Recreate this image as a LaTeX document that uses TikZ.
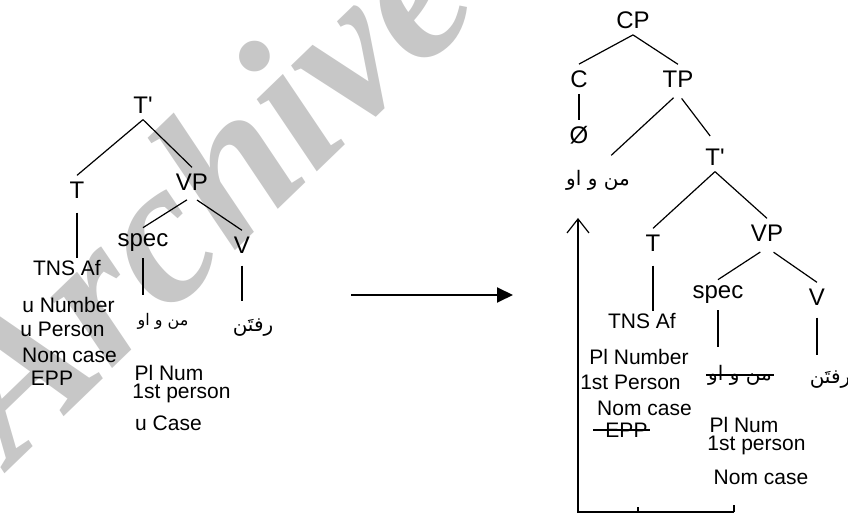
\documentclass[tikz,border=0pt]{standalone}
\usepackage{fontspec}
\setmainfont{Liberation Sans}
\newfontfamily\arabicfont[Script=Arabic]{DejaVu Sans}
\newfontfamily\wmfont{Liberation Serif}
\TeXXeTstate=1
\usetikzlibrary{arrows.meta}
\newcommand{\artxt}[1]{\beginR #1\endR}
\tikzset{
	lab/.style={inner sep=3pt, font=\fontsize{12}{14}\selectfont},
	feat/.style={inner sep=1pt, font=\fontsize{10.5}{12}\selectfont},
	arab/.style={inner sep=1pt, font=\arabicfont\fontsize{8}{10}\selectfont},
	arabbig/.style={inner sep=1pt, font=\arabicfont\fontsize{10}{12}\selectfont},
	branch/.style={line width=0.6pt},
	wm/.style={text=black!22, rotate=44, font=\wmfont\bfseries\itshape\fontsize{102}{102}\selectfont}
}

\begin{document}
\begin{tikzpicture}[x=0.5pt,y=-0.5pt]
\useasboundingbox (0,0) rectangle (848,513);
	\node[wm] (wmark) at (200,188) {Archive};
	\node[lab] (tbarL) at (143,105) {T\textquotesingle};
	\node[lab] (tL) at (77,190) {T};
	\node[lab] (vpL) at (192,182) {VP};
	\node[lab] (specL) at (143,243) {spec};
	\node[lab] (vL) at (242,245) {V};
	\node[feat] (tnsL) at (67,268) {TNS Af};
	\node[feat] (unumL) at (68.5,305) {u Number};
	\node[feat] (upersL) at (62.5,329) {u Person};
	\node[feat] (nomL) at (69.5,355) {Nom case};
	\node[feat] (eppL) at (52,378) {EPP};
	\node[arab] (arabL) at (163,321) {\artxt{من و او}};
	\node[arabbig] (raftL) at (253,328) {\artxt{رفتَن}};
	\node[feat] (plL) at (169,373) {Pl Num};
	\node[feat] (firstL) at (181.5,393) {1st person};
	\node[feat] (ucaseL) at (168.5,423) {u Case};
	\draw[branch] (tbarL.south) -- (tL.north);
	\draw[branch] (tbarL.south) -- (vpL.north);
	\draw[branch, shorten <=3pt] (vpL.south) -- (specL.north);
	\draw[branch, shorten <=3pt] (vpL.south) -- (vL.north);
	\draw[branch, shorten <=4pt] (tL.south) -- (tL.south |- tnsL.north);
	\draw[branch, shorten >=8pt] (specL.south) -- (specL.south |- arabL.north);
	\draw[branch, shorten <=3pt, shorten >=8pt] (vL.south) -- (vL.south |- raftL.north);
	\coordinate (arrS) at (351,295);
	\coordinate (arrE) at (513,295);
	\draw[line width=1pt, -{Triangle[length=8pt,width=7.5pt]}] (arrS) -- (arrE);
	\node[lab] (cp) at (633,20) {CP};
	\node[lab] (c) at (579,79) {C};
	\node[lab] (tp) at (678,79) {TP};
	\node[lab] (empty) at (579,135) {Ø};
	\node[arabbig] (arabR) at (598,180) {\artxt{من و او}};
	\node[lab] (tbarR) at (715,157) {T\textquotesingle};
	\node[lab] (tR) at (653,243) {T};
	\node[lab] (vpR) at (767,233) {VP};
	\node[lab] (specR) at (718,295) {spec};
	\node[lab] (vR) at (817,297) {V};
	\node[feat] (tnsR) at (642,321) {TNS Af};
	\node[feat] (plnumR) at (639,357) {Pl Number};
	\node[feat] (persR) at (630.5,382) {1st Person};
	\node[feat] (nomR) at (644.5,408) {Nom case};
	\node[feat] (eppR) at (626.5,430) {EPP};
	\node[arabbig] (arabRs) at (740,375) {\artxt{من و او}};
	\node[arabbig] (raftR) at (830,380) {\artxt{رفتَن}};
	\node[feat] (plR) at (744,425) {Pl Num};
	\node[feat] (firstR) at (756.5,445) {1st person};
	\node[feat] (nomR2) at (761,477) {Nom case};
	\draw[branch] (cp.south) -- (c.north);
	\draw[branch] (cp.south) -- (tp.north);
	\draw[branch] (c.south) -- (c.south |- empty.north);
	\draw[branch, shorten <=3pt, shorten >=9pt] (tp.south) -- (arabR.north);
	\draw[branch, shorten <=3pt, shorten >=4pt] (tp.south) -- (tbarR.north);
	\draw[branch] (tbarR.south) -- (tR.north);
	\draw[branch] (tbarR.south) -- (vpR.north);
	\draw[branch, shorten <=4pt] (tR.south) -- (tR.south |- tnsR.north);
	\draw[branch, shorten <=4pt] (vpR.south) -- (specR.north);
	\draw[branch, shorten <=4pt] (vpR.south) -- (vR.north);
	\draw[branch, shorten >=8pt] (specR.south) -- (specR.south |- arabRs.north);
	\draw[branch, shorten <=3pt, shorten >=7pt] (vR.south) -- (vR.south |- raftR.north);
	\draw[branch] ([xshift=-5pt]eppR.west) -- (eppR.east);
	\draw[branch] (arabRs.west) -- (arabRs.east);
	\coordinate (mvTop) at (578,218);
	\coordinate (mvBot) at (578,512);
	\coordinate (mvMid) at (638,512);
	\coordinate (mvEnd) at (734,512);
	\draw[branch, -{Straight Barb[length=7pt,width=11pt]}] (mvEnd) -- (mvBot) -- (mvTop);
	\draw[branch] (mvMid) -- ++(0,-5);
	\draw[branch] (mvEnd) -- ++(0,-7);
\end{tikzpicture}
\end{document}
